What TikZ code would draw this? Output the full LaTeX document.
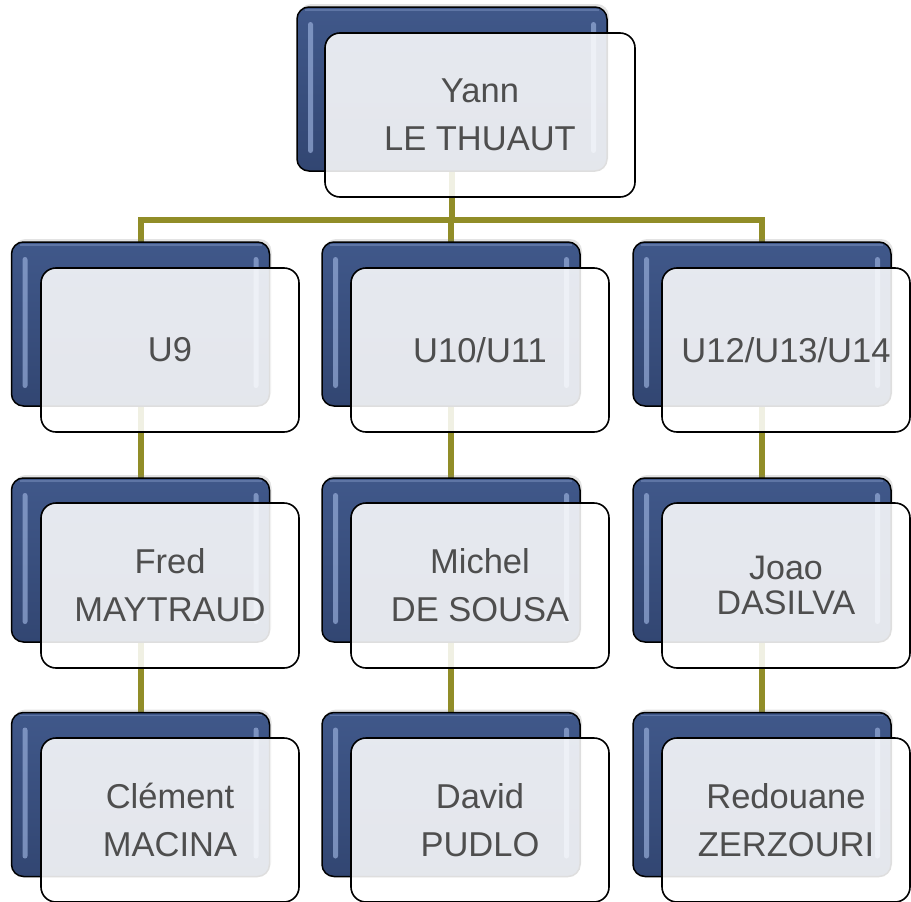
\documentclass[tikz,border=0pt]{standalone}
\usepackage{fontspec}
\setmainfont{Liberation Sans}
\usetikzlibrary{shadows}
\pgfdeclarelayer{bg}
\pgfsetlayers{bg,main}
\definecolor{backblue}{RGB}{58,80,128}
\definecolor{backtop}{RGB}{64,88,138}
\definecolor{backbot}{RGB}{50,70,114}
\definecolor{gloss}{RGB}{150,172,216}
\definecolor{olive}{RGB}{145,141,40}
\definecolor{txt}{RGB}{78,78,78}
\tikzset{
  backbox/.style={rectangle, rounded corners=12, draw=black, line width=1.5,
    top color=backtop, bottom color=backbot, inner sep=0, outer sep=0,
    minimum width=258, minimum height=164,
    drop shadow={opacity=0.22, shadow xshift=2, shadow yshift=-3}},
  frontbox/.style={rectangle, rounded corners=15, draw=black, line width=1.6,
    fill=white, fill opacity=0.87, text opacity=1, text=txt, inner sep=0, outer sep=0,
    minimum width=258, minimum height=164, align=center,
    font=\fontsize{34.5}{48}\selectfont},
  glossbar/.style={fill=gloss, rounded corners=2.5, opacity=0.7},
  conn/.style={draw=olive, line width=6},
}
\newcommand{\glossy}[1]{%
  \fill[glossbar] ([xshift=11,yshift=-15]#1.north west) rectangle ([xshift=16,yshift=18]#1.south west);
  \fill[glossbar] ([xshift=-11,yshift=-15]#1.north east) rectangle ([xshift=-16,yshift=18]#1.south east);
  \draw[gloss, opacity=0.35, line width=1.2] ([xshift=8,yshift=-3]#1.north west) -- ([xshift=-8,yshift=-3]#1.north east);
}
\begin{document}
\begin{tikzpicture}[x=1pt,y=-1pt]
\useasboundingbox (0,0) rectangle (911,902);
\clip (0,0) rectangle (911,902);
% back boxes
\node[backbox, minimum width=310] (b0) at (452,89) {};
\node[backbox] (b1) at (140.5,324) {};
\node[backbox] (b2) at (451,324) {};
\node[backbox] (b3) at (762,324) {};
\node[backbox] (b4) at (140.5,560) {};
\node[backbox] (b5) at (451,560) {};
\node[backbox] (b6) at (762,560) {};
\node[backbox] (b7) at (140.5,794.5) {};
\node[backbox] (b8) at (451,794.5) {};
\node[backbox] (b9) at (762,794.5) {};
\foreach \n in {b0,b1,b2,b3,b4,b5,b6,b7,b8,b9} {\glossy{\n}}
% connectors
\coordinate (bus) at (451,220);
\begin{pgfonlayer}{bg}
\draw[conn] (b0.south) -- (b0.south |- bus);
\draw[conn] (b1.north) -- (b1.north |- bus) -- (b3.north |- bus) -- (b3.north);
\draw[conn] (b2.north) -- (b2.north |- bus);
\draw[conn] (b1.south) -- (b4.north);
\draw[conn] (b2.south) -- (b5.north);
\draw[conn] (b3.south) -- (b6.north);
\draw[conn] (b4.south) -- (b7.north);
\draw[conn] (b5.south) -- (b8.north);
\draw[conn] (b6.south) -- (b9.north);
\end{pgfonlayer}
% front boxes
\node[frontbox, minimum width=310] (f0) at (480,115) {Yann\\LE THUAUT};
\node[frontbox] (f1) at (170,350) {U9};
\node[frontbox] (f2) at (480,350) {U10/U11};
\node[frontbox, minimum width=248] (f3) at (786,350) {U12/U13/U14};
\node[frontbox, minimum height=165] (f4) at (170,585.5) {Fred\\MAYTRAUD};
\node[frontbox, minimum height=165] (f5) at (480,585.5) {Michel\\DE SOUSA};
\node[frontbox, minimum height=165, minimum width=248, font=\fontsize{34}{35}\selectfont] (f6) at (786,585.5) {Joao\\DASILVA};
\node[frontbox] (f7) at (170,820) {Clément\\MACINA};
\node[frontbox] (f8) at (480,820) {David\\PUDLO};
\node[frontbox, minimum width=248] (f9) at (786,820) {Redouane\\ZERZOURI};
\end{tikzpicture}
\end{document}
